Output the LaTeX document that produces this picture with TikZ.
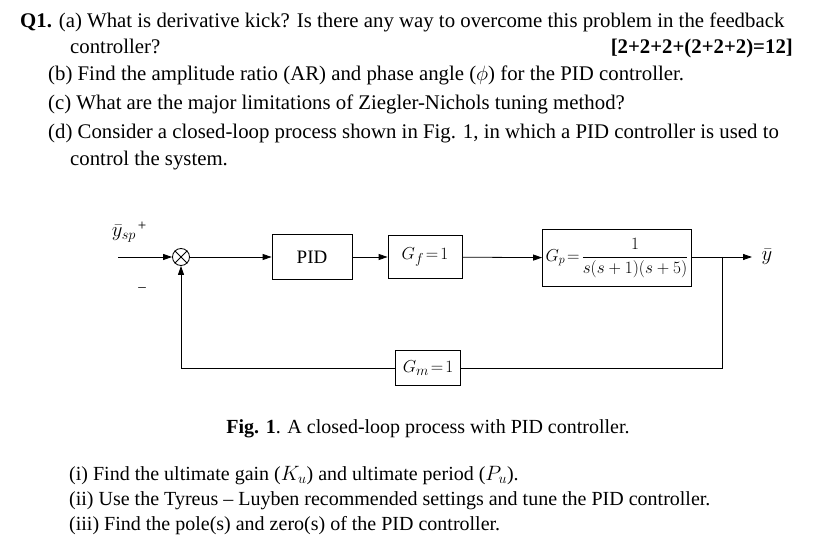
\documentclass[tikz,border=0pt]{standalone}
\usepackage{fontspec}
\setmainfont{Liberation Serif}
\usetikzlibrary{arrows.meta}
\begin{document}
\begin{tikzpicture}[x=1pt,y=-1pt,
  txt/.style={anchor=base west,inner sep=0pt,font=\fontsize{20.8}{24}\selectfont},
  btxt/.style={anchor=base west,inner sep=0pt,font=\fontsize{20}{24}\selectfont},
  blk/.style={draw,thick,inner sep=0pt,font=\fontsize{19}{22}\selectfont},
  sig/.style={thick,-{Triangle[length=9pt,width=6pt]}},
  ln/.style={thick}]
\useasboundingbox (0,0) rectangle (833,545);
\node[txt] (l1) at (20,28) {\textbf{Q1.} (a) What is derivative kick? Is there any way to overcome this problem in the feedback};
\node[txt] (l2) at (70,54) {controller?};
\node[txt,anchor=base east] (l2b) at (793,54) {\textbf{[2+2+2+(2+2+2)=12]}};
\node[txt] (l3) at (48,81) {(b) Find the amplitude ratio (AR) and phase angle ($\phi$) for the PID controller.};
\node[txt] (l4) at (48,110) {(c) What are the major limitations of Ziegler-Nichols tuning method?};
\node[txt] (l5) at (48,139) {(d) Consider a closed-loop process shown in Fig. 1, in which a PID controller is used to};
\node[txt] (l6) at (70,166) {control the system.};
\node[draw,thick,circle,minimum size=17pt,inner sep=0pt] (sum) at (181,257) {};
\draw[thick] (sum.north west)--(sum.south east) (sum.north east)--(sum.south west);
\node[blk,minimum width=80pt,minimum height=45pt] (pid) at (312,257) {PID};
\node[blk,minimum width=74pt,minimum height=43pt] (gf) at (425,257) {$G_f\!=\!1$};
\node[blk,minimum width=149pt,minimum height=57pt,font=\fontsize{17}{20}\selectfont] (gp) at (617,258) {$G_p\!=\!\displaystyle\frac{1}{s(s+1)(s+5)}$};
\node[blk,minimum width=65pt,minimum height=35pt] (gm) at (428,368) {$G_m\!=\!1$};
\coordinate (in) at (118,257);
\coordinate (out) at (752,257);
\coordinate (br) at (722,257);
\node[anchor=west,font=\fontsize{21}{24}\selectfont] (y) at (758,257) {$\bar y$};
\node[font=\fontsize{20}{24}\selectfont] (ysp) at (124,234) {$\bar y_{sp}$};
\node[font=\fontsize{15}{16}\selectfont] (plus) at (142,226) {+};
\node[font=\fontsize{15}{16}\selectfont] (minus) at (142,290) {--};
\draw[sig] (in)--(sum);
\draw[sig] (sum)--(pid);
\draw[sig] (pid)--(gf);
\draw[sig] (gf)--(gp);
\draw[sig] (gp.east|-br)--(out);
\draw[ln] (br)|-(gm);
\draw[sig] (gm)-|(sum);
\node[btxt,anchor=base] (cap) at (428,433) {\textbf{Fig. 1}. A closed-loop process with PID controller.};
\node[btxt] (i1) at (69,480) {(i) Find the ultimate gain ($K_u$) and ultimate period ($P_u$).};
\node[btxt] (i2) at (69,505) {(ii) Use the Tyreus -- Luyben recommended settings and tune the PID controller.};
\node[btxt] (i3) at (69,530) {(iii) Find the pole(s) and zero(s) of the PID controller.};
\end{tikzpicture}
\end{document}
